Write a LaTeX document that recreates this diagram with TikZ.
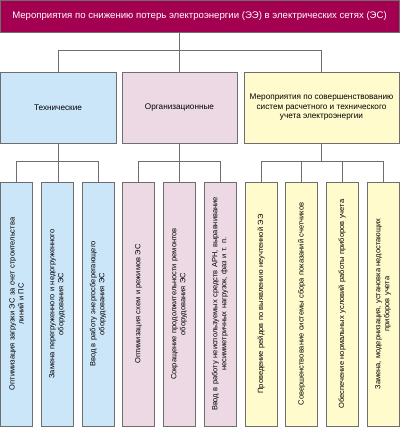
\documentclass[tikz,border=0pt]{standalone}
\usepackage{xcolor}
\usepackage{tikz}
\usetikzlibrary{positioning,calc}
\usepackage{fontspec}
\setmainfont{Liberation Sans}
\definecolor{lossmaroon}{RGB}{163, 0, 82}
\definecolor{techblue}{RGB}{204, 230, 249}
\definecolor{orgpink}{RGB}{236, 217, 228}
\definecolor{meteryellow}{RGB}{255, 251, 204}
\definecolor{linegray}{RGB}{110, 110, 110}

\begin{document}
\begin{tikzpicture}[x=1pt, y=1pt,
        box/.style={rectangle, draw=linegray, line width=0.5pt, inner sep=2pt, align=center, font=\fontsize{8.2}{9.5}\selectfont},
        midbox/.style={box, minimum height=71pt},
        leaf/.style={box, rotate=90, inner sep=1pt, minimum width=244pt, minimum height=32pt, text width=242pt, font=\fontsize{7.5}{9}\selectfont},
        conn/.style={draw=linegray, line width=0.6pt}]
        \useasboundingbox (0,0) rectangle (400,-427);

        % title bar
        \node[box, fill=lossmaroon, text=white, minimum width=399pt, minimum height=32pt, font=\fontsize{9.6}{11}\selectfont] (title) at (199.5,-16) {Мероприятия по снижению потерь электроэнергии (ЭЭ) в электрических сетях (ЭС)};

        % groups
        \node[midbox, fill=techblue, minimum width=116pt] (tech) at (58,-107.5) {Технические};
        \node[midbox, fill=orgpink, minimum width=115pt] (org) at (179.5,-107.5) {Организационные};
        \node[midbox, fill=meteryellow, minimum width=155pt] (meter) at (321.5,-107.5) {Мероприятия по совершенствованию\\систем расчетного и технического\\учета электроэнергии};

        % measures
        \node[leaf, fill=techblue] (t1) at (16.5,-304) {Оптимизация загрузки ЭС за счет строительства\\линий и ПС};
        \node[leaf, fill=techblue] (t2) at (57,-304) {Замена перегруженного и недогруженного\\оборудования ЭС};
        \node[leaf, fill=techblue] (t3) at (98,-304) {Ввод в работу энергосберегающего\\оборудования ЭС};
        \node[leaf, fill=orgpink] (o1) at (138.5,-304) {Оптимизация схем и режимов ЭС};
        \node[leaf, fill=orgpink] (o2) at (179,-304) {Сокращение продолжительности ремонтов\\оборудования ЭС};
        \node[leaf, fill=orgpink] (o3) at (220,-304) {Ввод в работу неиспользуемых средств АРН, выравнивание\\несимметричных нагрузок, фаз и т. п.};
        \node[leaf, fill=meteryellow] (u1) at (261,-304) {Проведение рейдов по выявлению неучтенной ЭЭ};
        \node[leaf, fill=meteryellow] (u2) at (301.5,-304) {Совершенствование системы сбора показаний счетчиков};
        \node[leaf, fill=meteryellow] (u3) at (342,-304) {Обеспечение нормальных условий работы приборов учета};
        \node[leaf, fill=meteryellow] (u4) at (383,-304) {Замена, модернизация, установка недостающих\\приборов учета};

        % connectors
        \draw[conn] (org.north) -- (org.north |- title.south);
        \draw[conn] (tech.north) -- ++(0,21) -| (meter.north);

        \draw[conn] (tech.south) -- (tech.south |- t2.east);
        \draw[conn] (t1.east) -- ++(0,20) -| (t3.east);

        \draw[conn] (org.south) -- (org.south |- o2.east);
        \draw[conn] (o1.east) -- ++(0,20) -| (o3.east);

        \draw[conn] (meter.south) -- ++(0,-19);
        \draw[conn] (u1.east) -- ++(0,20) -| (u4.east);
        \draw[conn] (u2.east) -- ++(0,20);
        \draw[conn] (u3.east) -- ++(0,20);
    \end{tikzpicture}
\end{document}
